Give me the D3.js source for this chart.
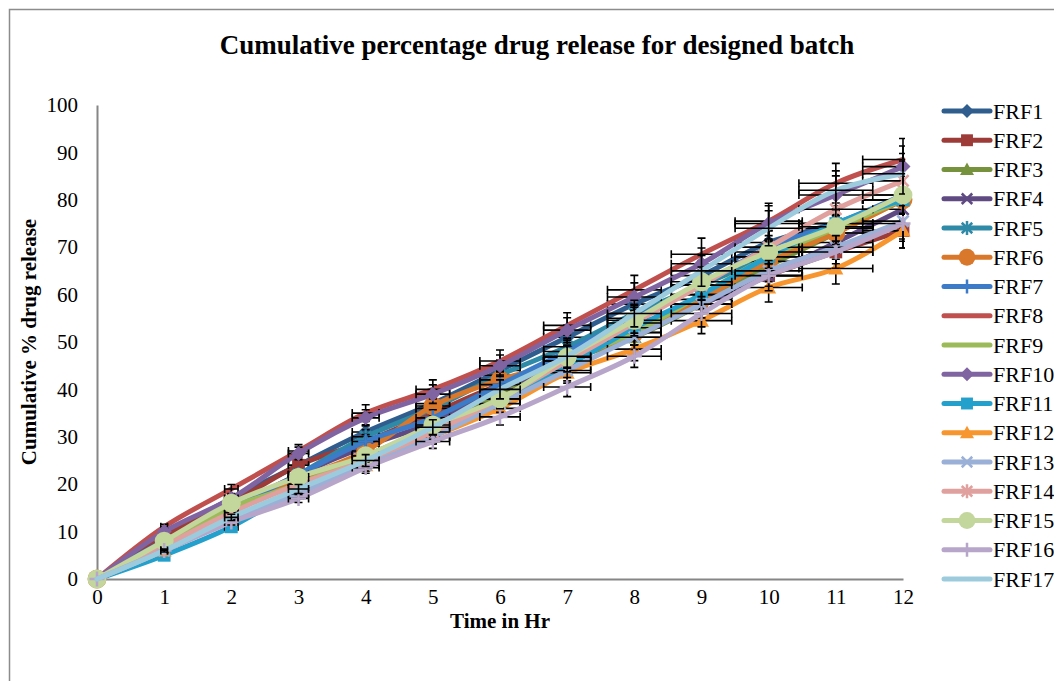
<!DOCTYPE html>
<html><head><meta charset="utf-8">
<script src="https://cdn.jsdelivr.net/npm/d3@7"></script>
<style>body{margin:0;background:#fff}svg{display:block}</style>
</head><body>
<svg id="chart" width="1054" height="681"></svg>
<script>
const timeHr = [0,1,2,3,4,5,6,7,8,9,10,11,12];
const seriesNames = ["FRF1","FRF2","FRF3","FRF4","FRF5","FRF6","FRF7","FRF8","FRF9","FRF10","FRF11","FRF12","FRF13","FRF14","FRF15","FRF16","FRF17"];
const FRF1  = [0, 9, 17, 24, 31, 37, 44, 51, 58, 64, 71, 75, 80];
const FRF2  = [0, 9, 16, 24, 29, 35, 41, 46, 52, 58, 64, 69, 73.5];
const FRF3  = [0, 7, 15, 21, 26, 32, 39, 46, 51, 58, 66, 73, 80];
const FRF4  = [0, 8, 15, 22, 28, 33, 40, 46, 53, 58, 64, 71, 78];
const FRF5  = [0, 7, 14, 22, 30, 36, 43, 49, 56, 62, 68, 74, 80];
const FRF6  = [0, 7, 14, 21, 27, 36.5, 42, 46, 52, 59, 67, 73, 80];
const FRF7  = [0, 8, 15, 22, 29, 34, 41, 48, 55, 62, 70, 75, 81];
const FRF8  = [0, 11, 19, 27, 35, 40, 46, 53.5, 61, 68.5, 75.5, 83.5, 88.5];
const FRF9  = [0, 7, 15, 20, 26, 32, 38, 46, 52, 60, 68, 74, 80];
const FRF10 = [0, 10, 17, 26.5, 34, 39, 45, 52.5, 59.5, 66.5, 75, 81, 87];
const FRF11 = [0, 5, 11, 19, 25, 31, 38, 45, 53, 60, 68, 75, 80];
const FRF12 = [0, 6, 12.5, 19, 24, 30, 36, 43.5, 48.5, 54.5, 61.5, 65.5, 73.5];
const FRF13 = [0, 6, 12.5, 18, 24, 30, 37, 44, 51, 58, 65, 70, 75.5];
const FRF14 = [0, 7, 14, 20, 25, 31, 38, 46, 54, 62, 70, 78, 84];
const FRF15 = [0, 8, 16, 21.5, 26, 32.5, 38, 46.8, 54.6, 62.7, 69, 74.3, 81];
const FRF16 = [0, 6, 12, 17, 23.5, 29, 34.2, 40.5, 47, 56, 64, 69, 75];
const FRF17 = [0, 6, 13, 19, 25, 32, 40, 47, 56, 65, 74, 82, 85.5];
const seriesValues = [FRF1,FRF2,FRF3,FRF4,FRF5,FRF6,FRF7,FRF8,FRF9,FRF10,FRF11,FRF12,FRF13,FRF14,FRF15,FRF16,FRF17];
const seriesColors = ["#2F5D8E","#9C3B38","#76923C","#5F4A82","#2E8AA6","#D9772A","#3B7BC8","#C0504D","#9BBB59","#8064A2","#23A0CC","#F7952F","#9BB0D6","#E0A09D","#C3D69B","#B7A6C9","#9DCBDE"];
const seriesMarkers = ["diamond","square","triangle","x","star","circle","plus","none","none","diamond","square","triangle","x","star","circle","plus","none"];
const yTicks = [0,10,20,30,40,50,60,70,80,90,100];
const errorPct = 0.05;

const svg = d3.select("#chart");
const serif = "'Liberation Serif','Times New Roman',serif";

svg.append("rect").attr("x",9.5).attr("y",9.5).attr("width",1100).attr("height",1000)
  .attr("fill","none").attr("stroke","#8c8c8c").attr("stroke-width",1.5);

const x = d3.scaleLinear().domain([0,12]).range([97,903]);
const y = d3.scaleLinear().domain([0,100]).range([579,105]);

svg.append("text").attr("x",537).attr("y",54).attr("text-anchor","middle")
  .attr("font-family",serif).attr("font-weight","bold").attr("font-size",27)
  .text("Cumulative percentage drug release for designed batch");

const yAxis = svg.append("g").attr("transform","translate(97,0)")
  .call(d3.axisLeft(y).tickValues(yTicks).tickSize(0).tickPadding(19));
const xAxis = svg.append("g").attr("transform","translate(0,579)")
  .call(d3.axisBottom(x).tickValues(timeHr).tickSize(0).tickPadding(10));
[yAxis,xAxis].forEach(g=>{
  g.select(".domain").attr("stroke","#868686").attr("stroke-width",2);
  g.selectAll("text").attr("font-family",serif).attr("font-size",21).attr("fill","#000");
});

svg.append("text").attr("x",500).attr("y",628).attr("text-anchor","middle")
  .attr("font-family",serif).attr("font-weight","bold").attr("font-size",21)
  .text("Time in Hr");
svg.append("text").attr("transform","translate(36,342) rotate(-90)").attr("text-anchor","middle")
  .attr("font-family",serif).attr("font-weight","bold").attr("font-size",21)
  .text("Cumulative % drug release");

function drawMarker(g, type, cx, cy, color, s){
  if(type==="none") return;
  if(type==="diamond"){
    g.append("path").attr("d",`M${cx},${cy-s}L${cx+s},${cy}L${cx},${cy+s}L${cx-s},${cy}Z`).attr("fill",color);
  } else if(type==="square"){
    g.append("rect").attr("x",cx-s*0.85).attr("y",cy-s*0.85).attr("width",s*1.7).attr("height",s*1.7).attr("fill",color);
  } else if(type==="triangle"){
    g.append("path").attr("d",`M${cx},${cy-s}L${cx+s},${cy+s*0.8}L${cx-s},${cy+s*0.8}Z`).attr("fill",color);
  } else if(type==="circle"){
    g.append("circle").attr("cx",cx).attr("cy",cy).attr("r",s*1.05).attr("fill",color);
  } else if(type==="x"){
    const d=s*0.75;
    g.append("path").attr("d",`M${cx-d},${cy-d}L${cx+d},${cy+d}M${cx-d},${cy+d}L${cx+d},${cy-d}`).attr("stroke",color).attr("stroke-width",2.5);
  } else if(type==="star"){
    const d=s*0.75;
    g.append("path").attr("d",`M${cx-d},${cy-d}L${cx+d},${cy+d}M${cx-d},${cy+d}L${cx+d},${cy-d}M${cx},${cy-s}L${cx},${cy+s}`).attr("stroke",color).attr("stroke-width",2.5);
  } else if(type==="plus"){
    g.append("path").attr("d",`M${cx},${cy-s}L${cx},${cy+s}M${cx-s},${cy}L${cx+s},${cy}`).attr("stroke",color).attr("stroke-width",2.5);
  }
}

svg.append("clipPath").attr("id","plotclip").append("rect")
  .attr("x",97).attr("y",95).attr("width",808).attr("height",490);

const line = d3.line().x((d,i)=>x(timeHr[i])).y(d=>y(d)).curve(d3.curveCatmullRom.alpha(0.5));
const plot = svg.append("g");
seriesValues.forEach((vals,si)=>{
  const g = plot.append("g");
  const col = seriesColors[si];
  g.append("path").datum(vals).attr("d",line).attr("fill","none")
    .attr("stroke",col).attr("stroke-width",5).attr("stroke-linejoin","round").attr("stroke-linecap","round");
  const eb = g.append("g").attr("clip-path","url(#plotclip)").attr("stroke","#000").attr("stroke-width",1.6).attr("fill","none");
  vals.forEach((v,i)=>{
    const t = timeHr[i]; if(t===0) return;
    const px=x(t), py=y(v);
    const y1=y(v*(1+errorPct)), y2=y(v*(1-errorPct));
    const x1=x(t*(1-errorPct)), x2=x(t*(1+errorPct));
    eb.append("path").attr("d",`M${px},${y1}L${px},${y2}M${px-4},${y1}L${px+4},${y1}M${px-4},${y2}L${px+4},${y2}`);
    eb.append("path").attr("d",`M${x1},${py}L${x2},${py}M${x1},${py-4}L${x1},${py+4}M${x2},${py-4}L${x2},${py+4}`);
  });
  const ms = seriesMarkers[si]==="circle" ? 9 : 7.5;
  vals.forEach((v,i)=>drawMarker(g, seriesMarkers[si], x(timeHr[i]), y(v), col, ms));
});

const legend = svg.append("g");
seriesNames.forEach((name,i)=>{
  const ly = 111 + i*29.25;
  const g = legend.append("g");
  g.append("line").attr("x1",944).attr("x2",990).attr("y1",ly).attr("y2",ly)
    .attr("stroke",seriesColors[i]).attr("stroke-width",5).attr("stroke-linecap","round");
  drawMarker(g, seriesMarkers[i], 967, ly, seriesColors[i], seriesMarkers[i]==="circle"?8:7);
  g.append("text").attr("x",993).attr("y",ly+7.5).attr("font-family",serif).attr("font-size",22).text(name);
});
</script>
</body></html>
